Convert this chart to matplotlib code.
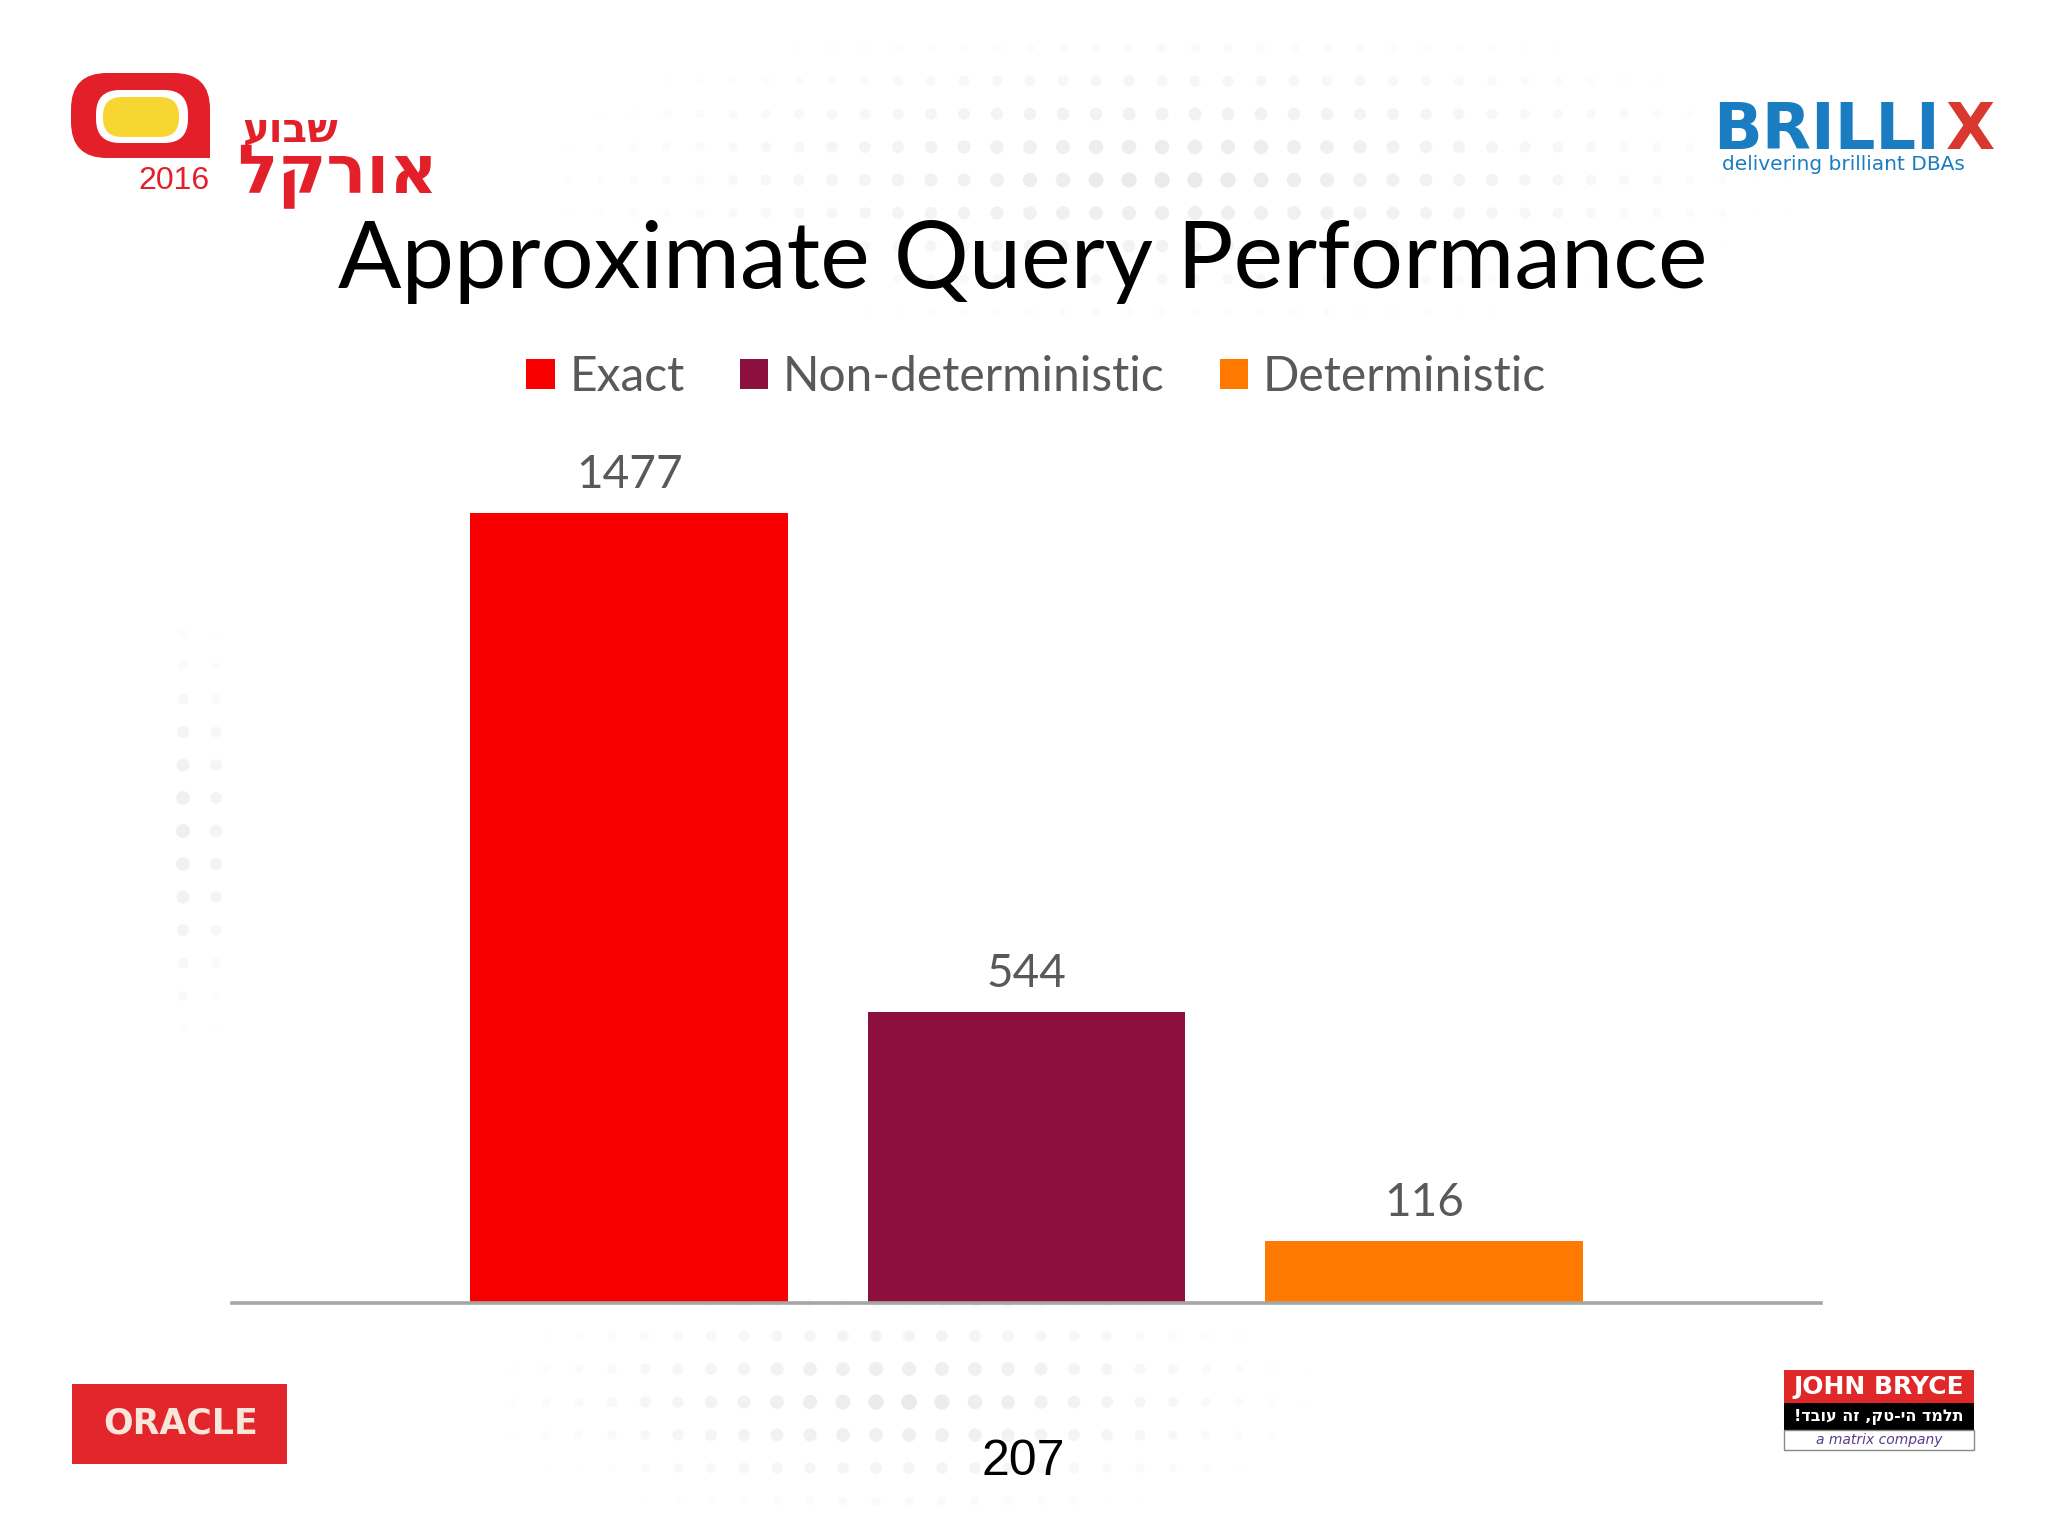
import matplotlib
matplotlib.use("Agg")
import matplotlib.pyplot as plt
from matplotlib.patches import FancyBboxPatch, Rectangle, Patch
import numpy as np

# ---------------- data ----------------
title = "Approximate Query Performance"
series = ["Exact", "Non-deterministic", "Deterministic"]
values = [1477, 544, 116]
colors = ["#F80000", "#8B103E", "#FF7800"]
page_number = "207"

TEXT_GREY = "#595959"
W, H = 2048, 1536

fig = plt.figure(figsize=(20.48, 15.36), dpi=100)
fig.patch.set_facecolor("white")

# background / decoration layer in pixel coordinates
bg = fig.add_axes([0, 0, 1, 1], zorder=0)
bg.set_xlim(0, W)
bg.set_ylim(H, 0)
bg.axis("off")


def dot_field(cx, cy, rx, ry, step=33):
    gx = np.arange(cx - rx, cx + rx + 1, step)
    gy = np.arange(cy - ry, cy + ry + 1, step)
    X, Y = np.meshgrid(gx, gy)
    d = np.sqrt(((X - cx) / rx) ** 2 + ((Y - cy) / ry) ** 2)
    m = d < 1
    w = (1 - d[m])
    cols = np.zeros((m.sum(), 4))
    cols[:, :3] = 0.82
    cols[:, 3] = 0.45 * w
    bg.scatter(X[m], Y[m], s=20 + 110 * w, c=cols, edgecolors="none")


dot_field(1175, 175, 640, 160)
dot_field(900, 1400, 420, 130)
dot_field(195, 830, 45, 230)

# ---------------- chart ----------------
ax = fig.add_axes([232 / W, 233 / H, 1589 / W, 856 / H], zorder=2)
ax.patch.set_alpha(0)
xpos = np.arange(len(values))
bars = ax.bar(xpos, values, width=0.8, color=colors)
ax.set_xlim(-1, 3)
ax.set_ylim(0, 1600)
for s in ["left", "right", "top"]:
    ax.spines[s].set_visible(False)
ax.spines["bottom"].set_color("#A6A6A6")
ax.spines["bottom"].set_linewidth(2.6)
ax.set_xticks([])
ax.set_yticks([])
ax.bar_label(bars, labels=[str(v) for v in values], padding=12,
             fontsize=33, color=TEXT_GREY, family="Lato")

handles = [Patch(facecolor=c, edgecolor="none") for c in colors]
fig.legend(handles, series, loc="center", bbox_to_anchor=(1036 / W, 1 - 377 / H),
           ncol=3, frameon=False, handlelength=0.6, handleheight=0.6,
           handletextpad=0.3, columnspacing=1.15, labelcolor=TEXT_GREY,
           prop={"family": "Lato", "size": 34.5})

fig.text(1023 / W, 1 - 262 / H, title, ha="center", va="center",
         fontsize=67.5, family="Lato", color="black")

fig.text(1023 / W, 1 - 1462 / H, page_number, ha="center", va="center",
         fontsize=36, family="Liberation Sans", color="black")

# ---------------- logos ----------------
RED = "#E3202A"
# Oracle week logo
bg.add_patch(FancyBboxPatch((71, 73), 139, 85, boxstyle="round,pad=0,rounding_size=36",
                            fc=RED, ec="none"))
bg.add_patch(Rectangle((150, 118), 60, 40, fc=RED, ec="none"))
bg.add_patch(FancyBboxPatch((96, 90), 92, 53, boxstyle="round,pad=0,rounding_size=24",
                            fc="white", ec="none"))
bg.add_patch(FancyBboxPatch((103, 97), 76, 40, boxstyle="round,pad=0,rounding_size=19",
                            fc="#F7D632", ec="none"))
bg.text(174, 181, "2016", ha="center", va="center", fontsize=23,
        family="Liberation Sans", color=RED)
bg.text(290, 141, "עובש", ha="center", va="baseline", fontsize=29,
        family="DejaVu Sans", weight="bold", color=RED)
bg.text(337, 193, "לקרוא", ha="center", va="baseline", fontsize=48,
        family="DejaVu Sans", weight="bold", color=RED)

# BRILLIX logo
BLUE = "#1A7DC2"
bg.text(1713, 149, "BRILLI", ha="left", va="baseline", fontsize=46,
        family="DejaVu Sans", weight="bold", color=BLUE)
bg.text(1946, 149, "X", ha="left", va="baseline", fontsize=46,
        family="DejaVu Sans", weight="bold", color="#D9382E")
bg.text(1843, 164, "delivering brilliant DBAs", ha="center", va="center",
        fontsize=14.5, family="DejaVu Sans", color=BLUE)

# Oracle logo
bg.add_patch(Rectangle((72, 1384), 215, 80, fc="#E3262B", ec="none"))
bg.text(181, 1424, "ORACLE", ha="center", va="center", fontsize=25,
        family="DejaVu Sans", weight="bold", color="#F8E6DA")

# John Bryce logo
bg.add_patch(Rectangle((1784, 1370), 190, 33, fc="#E02828", ec="none"))
bg.add_patch(Rectangle((1784, 1403), 190, 27, fc="black", ec="none"))
bg.add_patch(Rectangle((1784, 1430), 190, 20, fc="white", ec="#888888", lw=1))
bg.text(1879, 1387, "JOHN BRYCE", ha="center", va="center", fontsize=18,
        family="DejaVu Sans", weight="bold", color="white")
bg.text(1879, 1417, "!דבוע הז ,קט-יה דמלת", ha="center", va="center", fontsize=11.5,
        family="DejaVu Sans", weight="bold", color="white")
bg.text(1879, 1440, "a matrix company", ha="center", va="center", fontsize=10,
        family="DejaVu Sans", style="italic", color="#5B3C8C")

fig.savefig("out.png", dpi=100)
